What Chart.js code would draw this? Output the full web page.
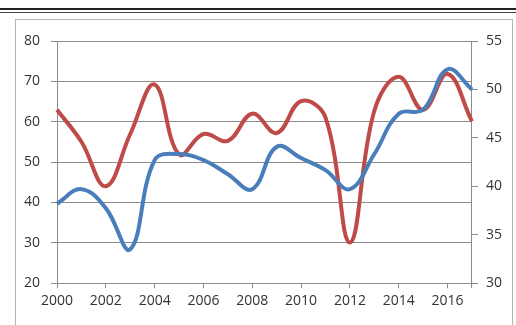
<!DOCTYPE html>
<html>
<head>
<meta charset="utf-8">
<script src="https://cdn.jsdelivr.net/npm/chart.js@4/dist/chart.umd.min.js"></script>
<style>
  html, body { margin: 0; padding: 0; background: #fff; }
  #wrap { position: relative; width: 516px; height: 325px; overflow: hidden; }
  #rule1 { position: absolute; left: 0; top: 8px; width: 516px; height: 2px; background: #222; }
  #rule2 { position: absolute; left: 0; top: 12px; width: 516px; height: 1px; background: #444; }
  #frame { position: absolute; left: 15px; top: 19px; width: 496px; height: 320px; border: 1px solid #b5b5b5; }
  canvas { position: absolute; left: 0; top: 0; }
</style>
</head>
<body>
<div id="wrap">
  <div id="rule1"></div>
  <div id="rule2"></div>
  <div id="frame"></div>
  <canvas id="chart" width="516" height="325"></canvas>
</div>
<script>
// === datos ===
const years = ['2000','2001','2002','2003','2004','2005','2006','2007','2008',
               '2009','2010','2011','2012','2013','2014','2015','2016','2017'];
// serie azul (eje izquierdo, 20-80)
const serieAzul = [39.7, 43.3, 38.6, 28.4, 50.5, 52, 50.5, 47, 43.3,
                   53.8, 51, 48, 43.3, 52, 62, 63, 73, 68];
// serie roja (eje derecho, 30-55)
const serieRoja = [47.9, 44.6, 40.0, 45.4, 50.5, 43.3, 45.4, 44.7, 47.5,
                   45.5, 48.8, 47.1, 34.2, 47.8, 51.3, 47.9, 51.6, 46.7];
const leftTicks = { min: 20, max: 80, step: 10 };
const rightTicks = { min: 30, max: 55, step: 5 };

const gris = '#8c8c8c';
const fuente = { family: 'Open Sans', size: 14 };

const ctx = document.getElementById('chart').getContext('2d');
new Chart(ctx, {
  type: 'line',
  data: {
    labels: years,
    datasets: [
      { label: 'Azul', data: serieAzul, yAxisID: 'y', borderColor: '#4a7ebb', borderWidth: 4,
        pointRadius: 0, tension: 0.4, fill: false },
      { label: 'Roja', data: serieRoja, yAxisID: 'y2', borderColor: '#be4b48', borderWidth: 4,
        pointRadius: 0, tension: 0.4, fill: false }
    ]
  },
  options: {
    responsive: false,
    animation: false,
    layout: { padding: { left: 13, right: 6, top: 41, bottom: 12 } },
    plugins: { legend: { display: false }, tooltip: { enabled: false } },
    scales: {
      x: {
        offset: false,
        grid: {
          drawOnChartArea: false, drawTicks: true, tickLength: 5,
          color: c => (c.index % 2 === 0 || c.index === years.length - 1) ? gris : 'transparent'
        },
        border: { color: gris },
        ticks: {
          autoSkip: false, maxRotation: 0, padding: 4, color: '#333', font: fuente,
          callback: (v, i) => i % 2 === 0 ? years[i] : ''
        }
      },
      y: {
        position: 'left',
        min: leftTicks.min, max: leftTicks.max,
        grid: { color: gris, tickLength: 6 },
        border: { color: gris },
        ticks: { stepSize: leftTicks.step, padding: 11, color: '#333', font: fuente }
      },
      y2: {
        position: 'right',
        min: rightTicks.min, max: rightTicks.max,
        grid: { drawOnChartArea: false, color: gris, tickLength: 6 },
        border: { color: gris },
        ticks: { stepSize: rightTicks.step, padding: 8, color: '#333', font: fuente }
      }
    }
  }
});
</script>
</body>
</html>
